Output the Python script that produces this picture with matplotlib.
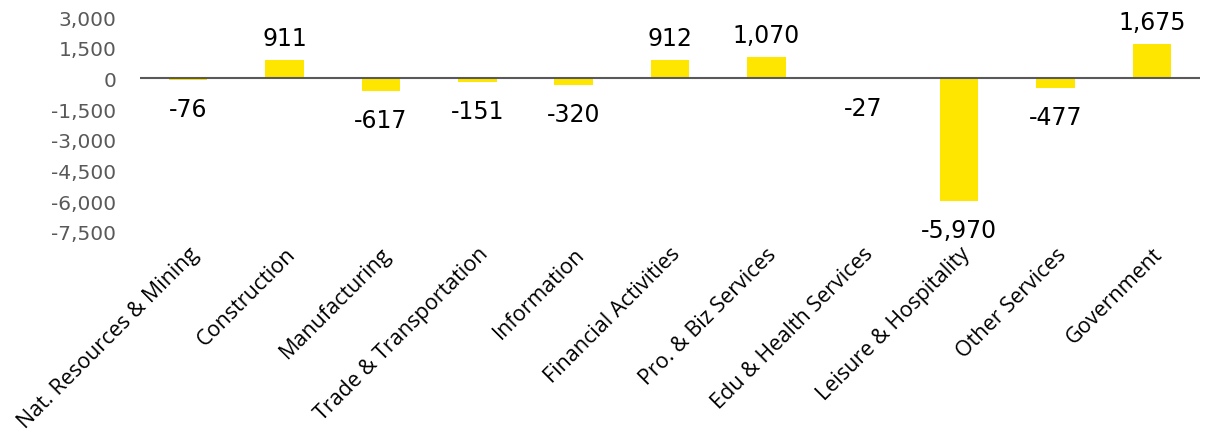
import matplotlib.pyplot as plt

categories = ["Nat. Resources & Mining", "Construction", "Manufacturing",
              "Trade & Transportation", "Information", "Financial Activities",
              "Pro. & Biz Services", "Edu & Health Services", "Leisure & Hospitality",
              "Other Services", "Government"]
values = [-76, 911, -617, -151, -320, 912, 1070, -27, -5970, -477, 1675]
yticks = [3000, 1500, 0, -1500, -3000, -4500, -6000, -7500]

W, H = 1213, 435
fig = plt.figure(figsize=(W / 100, H / 100), dpi=100)
ax = fig.add_axes([140 / W, 1 - 233 / H, (1200 - 140) / W, (233 - 18) / H])

x = range(len(categories))
ax.bar(x, values, width=0.4, color="#FFE600", zorder=2)
ax.axhline(0, color="#595959", lw=1.5, zorder=3)

ax.set_xlim(-0.5, len(categories) - 0.5)
ax.set_ylim(-7500, 3000)
ax.set_yticks(yticks)
ax.set_yticklabels([f"{v:,}" for v in yticks], color="#595959", fontsize=14.5,
                   family="DejaVu Sans")
ax.tick_params(axis="y", length=0, pad=17)
ax.tick_params(axis="x", length=0, pad=8)
ax.set_xticks(list(x))
ax.set_xticklabels(categories, rotation=45, ha="right", rotation_mode="anchor",
                   fontsize=15.5, family="Open Sans", color="black")
for s in ax.spines.values():
    s.set_visible(False)

for i, v in zip(x, values):
    off = 22 if v > 0 else -29
    ax.annotate(f"{v:,}", (i, v), xytext=(0, off), textcoords="offset pixels",
                ha="center", va="center", fontsize=17, family="DejaVu Sans",
                color="black")

fig.savefig("out.png", dpi=100)
